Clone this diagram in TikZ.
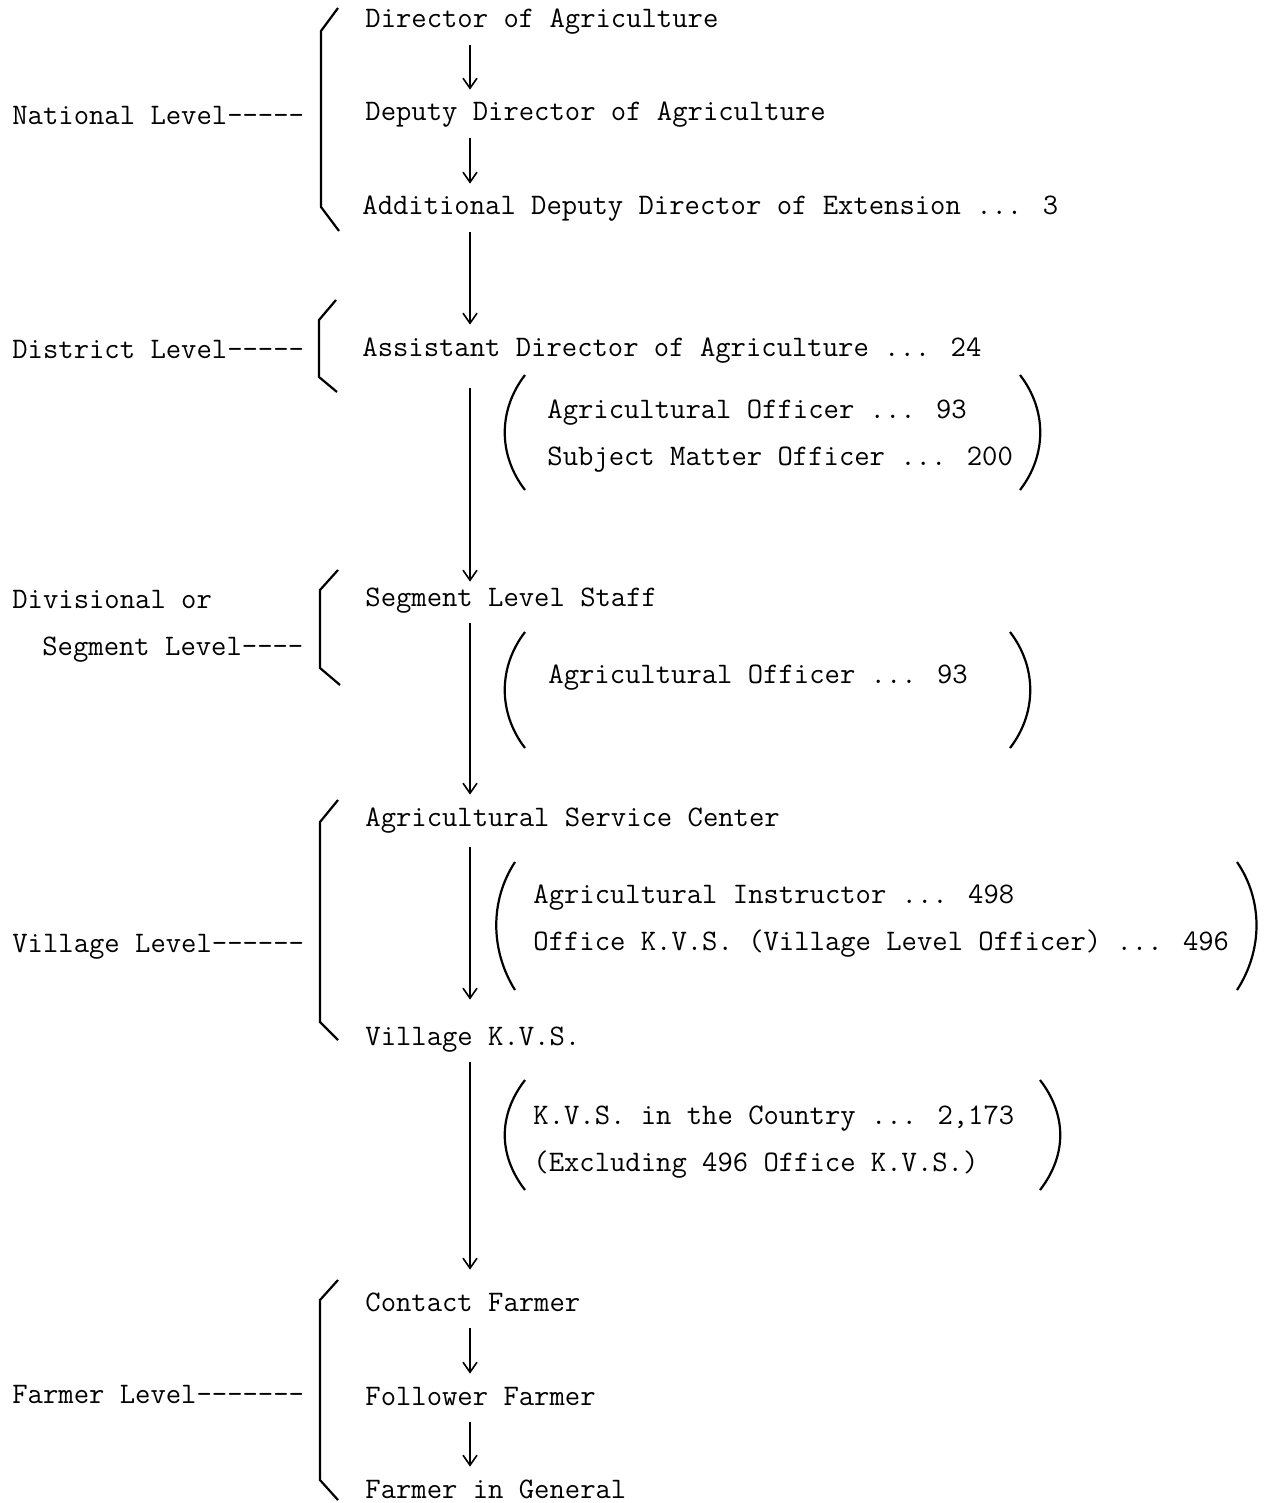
\documentclass[tikz,border=0pt]{standalone}
\usepackage{fontspec}
\usetikzlibrary{arrows.meta}
\tikzset{
  txt/.style={anchor=base west, inner xsep=0pt, inner ysep=5.5pt,
    text height=10pt, text depth=3pt,
    font=\ttfamily\fontsize{14.9}{17}\selectfont},
  flow/.style={line width=1pt, -{Straight Barb[length=5pt,width=7pt,line width=0.8pt]}},
  brk/.style={line width=1.1pt},
}
\begin{document}
\begin{tikzpicture}[x=0.5pt,y=-0.5pt]
    \useasboundingbox (0,0) rectangle (1265,1503);
    \coordinate (spine) at (470,0);
    % niveau national
    \node[txt] (dir) at (365,28) {Director of Agriculture};
    \node[txt] (dep) at (365,121) {Deputy Director of Agriculture};
    \node[txt] (add) at (362,215) {Additional Deputy Director of Extension ... 3};
    \node[txt] (nat) at (12,125) {National Level-{}-{}-{}-{}-};
    \draw[brk] (338,8) -- (321,31) -- (321,207) -- (339,231);
    % niveau district
    \node[txt] (ast) at (362,356) {Assistant Director of Agriculture ... 24};
    \node[txt] (dis) at (12,358) {District Level-{}-{}-{}-{}-};
    \draw[brk] (336,300) -- (319,320) -- (319,377) -- (337,392);
    \node[txt] (ao1) at (547,418) {Agricultural Officer ... 93};
    \node[txt] (smo) at (547,465) {Subject Matter Officer ... 200};
    \draw[brk] (525,375) .. controls (498,410) and (498,455) .. (525,490);
    \draw[brk] (1020,375) .. controls (1047,410) and (1047,455) .. (1020,490);
    % niveau segment
    \node[txt] (seg) at (365,606) {Segment Level Staff};
    \node[txt] (div) at (12,608) {Divisional or};
    \node[txt] (sgl) at (42,655) {Segment Level-{}-{}-{}-};
    \draw[brk] (338,570) -- (320,590) -- (320,668) -- (340,685);
    \node[txt] (ao2) at (548,683) {Agricultural Officer ... 93};
    \draw[brk] (525,632) .. controls (498,667) and (498,713) .. (525,748);
    \draw[brk] (1010,632) .. controls (1037,667) and (1037,713) .. (1010,748);
    % niveau village
    \node[txt] (asc) at (365,826) {Agricultural Service Center};
    \node[txt] (vkv) at (365,1045) {Village K.V.S.};
    \node[txt] (vil) at (12,952) {Village Level-{}-{}-{}-{}-{}-};
    \draw[brk] (338,800) -- (320,822) -- (320,1022) -- (338,1040);
    \node[txt] (ins) at (533,903) {Agricultural Instructor ... 498};
    \node[txt] (okv) at (533,950) {Office K.V.S. (Village Level Officer) ... 496};
    \draw[brk] (515,862) .. controls (490,900) and (490,950) .. (515,990);
    \draw[brk] (1237,862) .. controls (1263,900) and (1263,950) .. (1237,990);
    \node[txt] (kvc) at (533,1124) {K.V.S. in the Country ... 2,173};
    \node[txt] (exc) at (533,1171) {(Excluding 496 Office K.V.S.)};
    \draw[brk] (525,1080) .. controls (498,1115) and (498,1155) .. (525,1190);
    \draw[brk] (1040,1080) .. controls (1067,1115) and (1067,1155) .. (1040,1190);
    % niveau agriculteur
    \node[txt] (cf) at (365,1311) {Contact Farmer};
    \node[txt] (ff) at (365,1405) {Follower Farmer};
    \node[txt] (fg) at (365,1498) {Farmer in General};
    \node[txt] (frm) at (12,1403) {Farmer Level-{}-{}-{}-{}-{}-{}-};
    \draw[brk] (338,1280) -- (320,1300) -- (320,1480) -- (338,1500);
    % fleches
    \draw[flow] (dir.south -| spine) -- (dep.north -| spine);
    \draw[flow] (dep.south -| spine) -- (add.north -| spine);
    \draw[flow] (add.south -| spine) -- (ast.north -| spine);
    \draw[flow, shorten <=7.5pt, shorten >=-3.5pt] (ast.south -| spine) -- (seg.north -| spine);
    \draw[flow] (seg.south -| spine) -- (asc.north -| spine);
    \draw[flow, shorten <=2pt, shorten >=7pt] (asc.south -| spine) -- (vkv.north -| spine);
    \draw[flow, shorten >=5pt] (vkv.south -| spine) -- (cf.north -| spine);
    \draw[flow] (cf.south -| spine) -- (ff.north -| spine);
    \draw[flow] (ff.south -| spine) -- (fg.north -| spine);
\end{tikzpicture}
\end{document}
